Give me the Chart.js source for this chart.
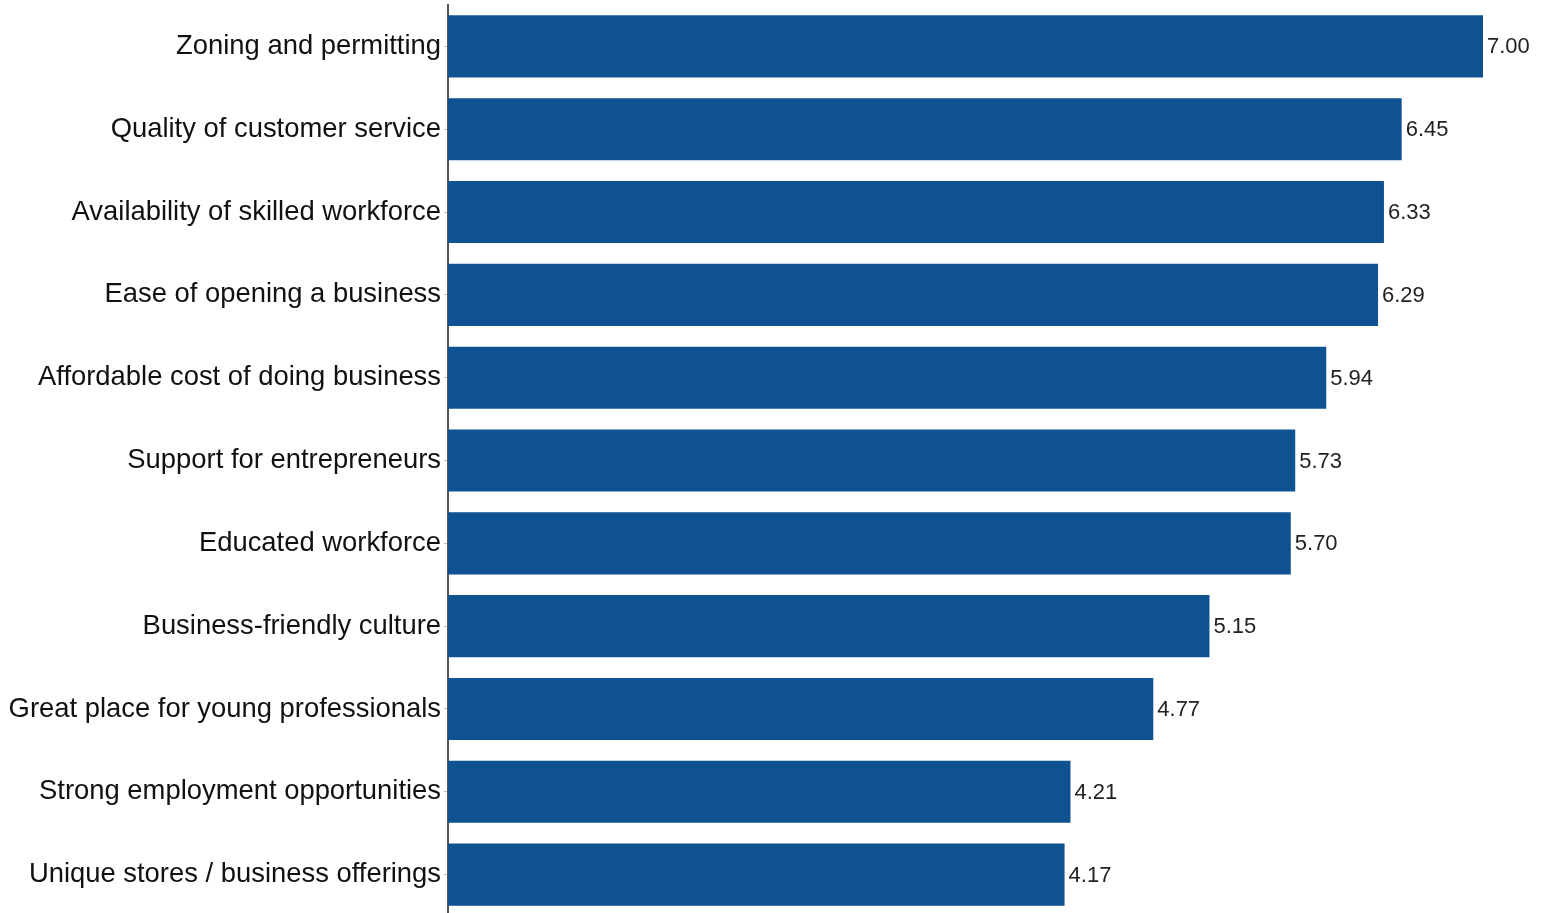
<!DOCTYPE html>
<html>
<head>
<meta charset="utf-8">
<script src="https://cdn.jsdelivr.net/npm/chart.js@4/dist/chart.umd.min.js"></script>
<style>
  html, body { margin: 0; padding: 0; background: #fff; overflow: hidden; }
  #wrap { width: 1541px; height: 916px; position: relative; }
</style>
</head>
<body>
<div id="wrap"><canvas id="grafico"></canvas></div>
<script>
// categorias y valores
const categorias = [
  "Zoning and permitting",
  "Quality of customer service",
  "Availability of skilled workforce",
  "Ease of opening a business",
  "Affordable cost of doing business",
  "Support for entrepreneurs",
  "Educated workforce",
  "Business-friendly culture",
  "Great place for young professionals",
  "Strong employment opportunities",
  "Unique stores / business offerings"
];
const valores = [7.00, 6.45, 6.33, 6.29, 5.94, 5.73, 5.70, 5.15, 4.77, 4.21, 4.17];

const colorBarra = "#0E5292";

// etiquetas de valor al final de cada barra
const etiquetasValor = {
  id: "etiquetasValor",
  afterDatasetsDraw(chart) {
    const ctx = chart.ctx;
    const meta = chart.getDatasetMeta(0);
    ctx.save();
    ctx.font = "22px 'Liberation Sans', Arial, sans-serif";
    ctx.fillStyle = "#222";
    ctx.textAlign = "left";
    ctx.textBaseline = "middle";
    meta.data.forEach((barra, i) => {
      ctx.fillText(valores[i].toFixed(2), barra.x + 4, barra.y + 1);
    });
    ctx.restore();
  }
};

const ctx = document.getElementById("grafico").getContext("2d");
const grafico = new Chart(ctx, {
  type: "bar",
  data: {
    labels: categorias,
    datasets: [{
      data: valores,
      backgroundColor: colorBarra,
      borderWidth: 0,
      barPercentage: 0.75,
      categoryPercentage: 1.0
    }]
  },
  options: {
    indexAxis: "y",
    responsive: true,
    maintainAspectRatio: false,
    animation: false,
    layout: { padding: { top: 5, right: 58, bottom: 0, left: 0 } },
    plugins: {
      legend: { display: false },
      tooltip: { enabled: false }
    },
    scales: {
      x: {
        display: false,
        min: 0,
        max: 7
      },
      y: {
        afterFit: (scale) => {
          scale.width = 448;
          scale.paddingTop = 0;
          scale.paddingBottom = 0;
        },
        border: { display: true, color: "#555", width: 2 },
        grid: {
          offset: false,
          drawOnChartArea: false,
          drawTicks: true,
          tickLength: 4,
          color: "#bbb"
        },
        ticks: {
          color: "#111",
          padding: 3,
          font: { family: "'Liberation Sans', Arial, sans-serif", size: 27.4 }
        }
      }
    }
  },
  plugins: [etiquetasValor]
});
</script>
</body>
</html>
